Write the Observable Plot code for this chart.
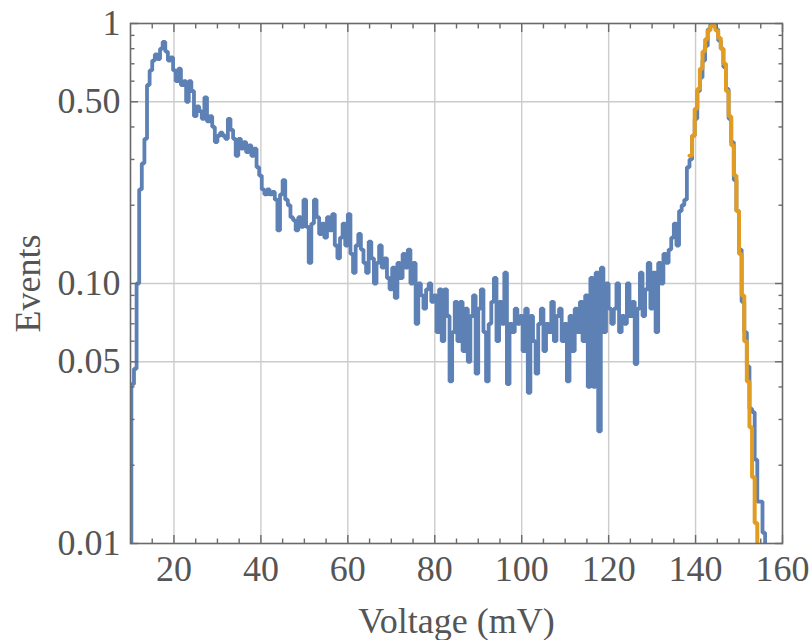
<!DOCTYPE html>
<html>
<head>
<meta charset="utf-8">
<script src="https://cdn.jsdelivr.net/npm/d3@7"></script>
<script src="https://cdn.jsdelivr.net/npm/@observablehq/plot@0.6"></script>
<style>
  html, body { margin: 0; padding: 0; background: #fff; overflow: hidden; }
</style>
</head>
<body>
<div id="chart"></div>
<script>
// Histogram bins (mV)
const binStart = 10.2;
const binWidth = 0.6;

const events = [
  0.041, 0.047, 0.10, 0.23, 0.29, 0.36, 0.58, 0.66, 0.72, 0.76,
  0.73, 0.80, 0.85, 0.78, 0.72, 0.74, 0.66, 0.60, 0.67, 0.58,
  0.60, 0.50, 0.60, 0.55, 0.44, 0.48, 0.46, 0.43, 0.52, 0.42,
  0.44, 0.40, 0.35, 0.37, 0.38, 0.37, 0.36, 0.43, 0.39, 0.36,
  0.31, 0.36, 0.33, 0.35, 0.32, 0.34, 0.31, 0.33, 0.28, 0.26,
  0.23, 0.22, 0.23, 0.22, 0.225, 0.21, 0.16, 0.22, 0.25, 0.21,
  0.20, 0.18, 0.175, 0.16, 0.18, 0.165, 0.21, 0.165, 0.12, 0.17,
  0.21, 0.18, 0.155, 0.17, 0.15, 0.18, 0.16, 0.185, 0.14, 0.125,
  0.15, 0.17, 0.14, 0.185, 0.13, 0.11, 0.14, 0.155, 0.135, 0.12,
  0.11, 0.145, 0.125, 0.10, 0.12, 0.14, 0.115, 0.125, 0.105, 0.095,
  0.115, 0.088, 0.12, 0.105, 0.13, 0.115, 0.135, 0.10, 0.12, 0.07,
  0.10, 0.09, 0.08, 0.095, 0.10, 0.085, 0.09, 0.065, 0.095, 0.06,
  0.095, 0.075, 0.042, 0.065, 0.085, 0.06, 0.085, 0.055, 0.08, 0.05,
  0.075, 0.09, 0.045, 0.08, 0.095, 0.065, 0.042, 0.07, 0.085, 0.105,
  0.06, 0.085, 0.07, 0.11, 0.041, 0.07, 0.065, 0.08, 0.07, 0.075,
  0.055, 0.08, 0.038, 0.075, 0.06, 0.045, 0.07, 0.08, 0.055, 0.07,
  0.065, 0.085, 0.06, 0.075, 0.08, 0.06, 0.07, 0.042, 0.075, 0.055,
  0.08, 0.065, 0.085, 0.06, 0.09, 0.04, 0.105, 0.04, 0.11, 0.027,
  0.115, 0.065, 0.10, 0.08, 0.07, 0.08, 0.10, 0.065, 0.075, 0.07,
  0.10, 0.075, 0.085, 0.049, 0.08, 0.11, 0.075, 0.095, 0.12, 0.08,
  0.11, 0.065, 0.12, 0.10, 0.13, 0.12, 0.135, 0.15, 0.17, 0.14,
  0.19, 0.20, 0.21, 0.28, 0.30, 0.37, 0.43, 0.55, 0.62, 0.72,
  0.82, 0.95, 1.03, 1.01, 0.95, 0.86, 0.80, 0.68, 0.56, 0.43,
  0.35, 0.25, 0.19, 0.135, 0.085, 0.065, 0.048, 0.033, 0.032, 0.021,
  0.0145, 0.0145, 0.011
];

// Fitted peak, same bins, starting at 138.6 mV
const fitStart = 138.6;
const fitEvents = [
  0.31, 0.37, 0.47, 0.56, 0.67, 0.78, 0.87, 0.94, 0.98, 0.98,
  0.94, 0.88, 0.80, 0.70, 0.55, 0.44, 0.34, 0.26, 0.19, 0.13,
  0.09, 0.06, 0.042, 0.028, 0.018, 0.012
];

const xMajorTicks = [20, 40, 60, 80, 100, 120, 140, 160];
const xMinorTicks = [15, 25, 30, 35, 45, 50, 55, 65, 70, 75, 85, 90, 95, 105, 110, 115, 125, 130, 135, 145, 150, 155];
const xGrid = [20, 40, 60, 80, 100, 120, 140];
const yTickValues = [0.01, 0.05, 0.1, 0.5, 1];
const yTickLabels = ["0.01", "0.05", "0.10", "0.50", "1"];
const yMinorTicks = [0.02, 0.03, 0.04, 0.06, 0.07, 0.08, 0.09, 0.2, 0.3, 0.4, 0.6, 0.7, 0.8, 0.9];
const yGrid = [0.05, 0.1, 0.5];
const xLabel = "Voltage (mV)";
const yLabel = "Events";

const floorValue = 0.001; // below the axis domain: the edges drop through the frame

function stepSeries(start, values, riseFromFloor) {
  const pts = [];
  if (riseFromFloor) pts.push({x: start, y: floorValue});
  values.forEach((v, i) => pts.push({x: start + i * binWidth, y: v}));
  const end = start + values.length * binWidth;
  pts.push({x: end, y: values[values.length - 1]});
  pts.push({x: end, y: floorValue});
  return pts;
}

const dataSeries = stepSeries(binStart, events, true);
const fitSeries = stepSeries(fitStart, fitEvents, false);

const textColor = "#555555";
const frameColor = "#6a6a6a";
const gridColor = "#cccccc";

const chart = Plot.plot({
  width: 811,
  height: 640,
  marginLeft: 130,
  marginRight: 29,
  marginTop: 23,
  marginBottom: 97,
  style: {
    fontFamily: "'Liberation Serif', 'DejaVu Serif', serif",
    fontSize: "36px",
    color: textColor,
    background: "white"
  },
  x: {domain: [10, 160]},
  y: {type: "log", domain: [0.01, 1]},
  marks: [
    Plot.gridX(xGrid, {stroke: gridColor, strokeOpacity: 1, strokeWidth: 1.4}),
    Plot.gridY(yGrid, {stroke: gridColor, strokeOpacity: 1, strokeWidth: 1.4}),
    Plot.line(dataSeries, {x: "x", y: "y", curve: "step-after", stroke: "#5e81b5", strokeWidth: 3.8, strokeLinejoin: "miter", clip: true}),
    Plot.line(fitSeries, {x: "x", y: "y", curve: "step-after", stroke: "#e19c24", strokeWidth: 4, strokeLinejoin: "miter", clip: true}),
    Plot.frame({stroke: frameColor, strokeWidth: 1.6}),
    // inward ticks on all four sides
    Plot.axisX(xMajorTicks, {anchor: "bottom", tickSize: -8, fill: "none", stroke: frameColor, strokeWidth: 1.4}),
    Plot.axisX(xMinorTicks, {anchor: "bottom", tickSize: -4.5, fill: "none", stroke: frameColor, strokeWidth: 1.4}),
    Plot.axisX(xMajorTicks, {anchor: "top", tickSize: -8, fill: "none", stroke: frameColor, strokeWidth: 1.4}),
    Plot.axisX(xMinorTicks, {anchor: "top", tickSize: -4.5, fill: "none", stroke: frameColor, strokeWidth: 1.4}),
    Plot.axisY(yTickValues, {anchor: "left", tickSize: -8, fill: "none", stroke: frameColor, strokeWidth: 1.4}),
    Plot.axisY(yMinorTicks, {anchor: "left", tickSize: -4.5, fill: "none", stroke: frameColor, strokeWidth: 1.4}),
    Plot.axisY(yTickValues, {anchor: "right", tickSize: -8, fill: "none", stroke: frameColor, strokeWidth: 1.4}),
    Plot.axisY(yMinorTicks, {anchor: "right", tickSize: -4.5, fill: "none", stroke: frameColor, strokeWidth: 1.4}),
    // tick labels
    Plot.axisX(xMajorTicks, {anchor: "bottom", tickSize: 0, tickPadding: 12, label: null, fill: textColor}),
    Plot.axisY(yTickValues, {anchor: "left", tickSize: 0, tickPadding: 10, label: null, fill: textColor,
      tickFormat: (d) => yTickLabels[yTickValues.indexOf(d)]}),
    // axis titles
    Plot.text([xLabel], {text: (d) => d, frameAnchor: "bottom", dy: 64, lineAnchor: "top", textAnchor: "middle", fill: textColor}),
    Plot.text([yLabel], {text: (d) => d, frameAnchor: "left", dx: -102, rotate: -90, textAnchor: "middle", lineAnchor: "middle", fill: textColor})
  ]
});

document.getElementById("chart").appendChild(chart);
</script>
</body>
</html>
